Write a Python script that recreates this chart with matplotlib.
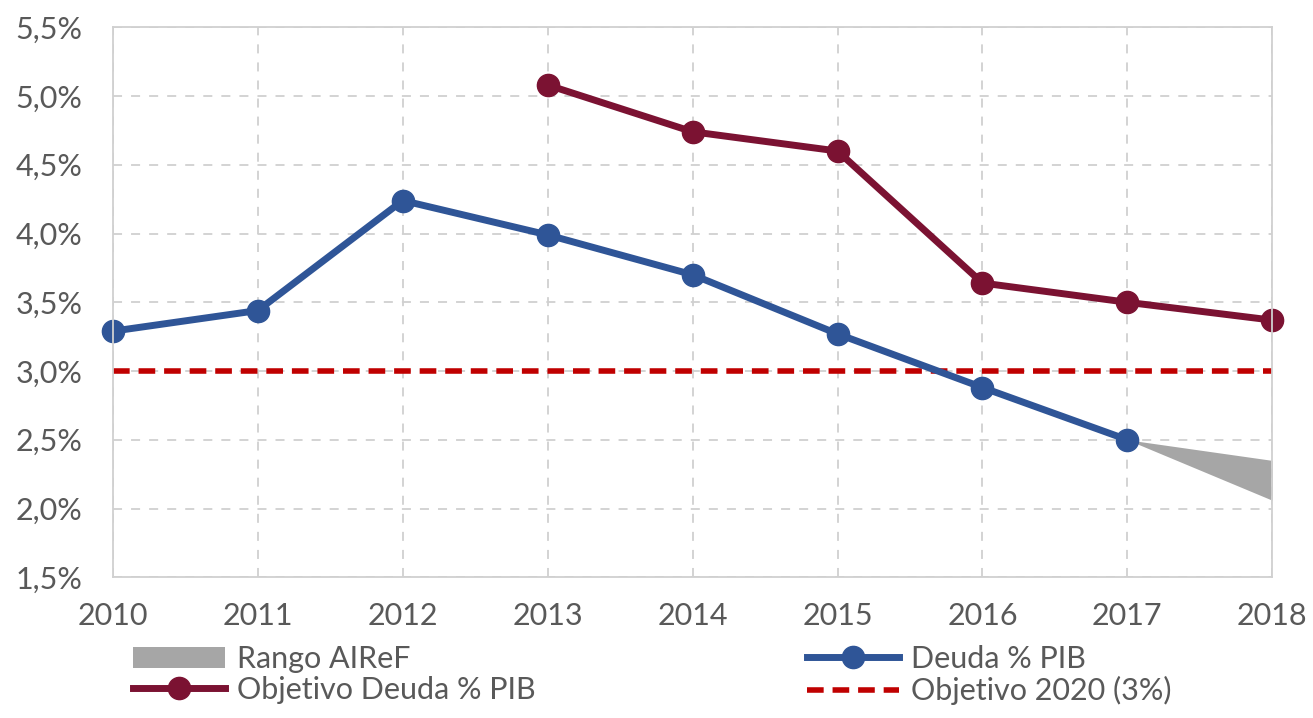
import matplotlib.pyplot as plt
import numpy as np

years = [2010, 2011, 2012, 2013, 2014, 2015, 2016, 2017, 2018]
deuda = [3.29, 3.44, 4.24, 3.99, 3.70, 3.27, 2.88, 2.50]
obj_years = [2013, 2014, 2015, 2016, 2017, 2018]
obj_deuda = [5.08, 4.74, 4.60, 3.64, 3.50, 3.37]
rango_years = [2017, 2018]
rango_low = [2.50, 2.06]
rango_high = [2.50, 2.35]
objetivo_2020 = 3.0

plt.rcParams['font.family'] = ['Lato', 'DejaVu Sans']
grey = '#595959'

fig = plt.figure(figsize=(13.13, 7.18), dpi=100)
ax = fig.add_axes([0.086, 0.196, 0.883, 0.766])

h_rango = ax.fill_between(rango_years, rango_low, rango_high, color='#a6a6a6', linewidth=0, label='Rango AIReF')
h_obj2020, = ax.plot([years[0], years[-1]], [objetivo_2020, objetivo_2020], color='#c00000', linewidth=4,
                     dashes=(3, 1.6), label='Objetivo 2020 (3%)')
h_deuda, = ax.plot(years[:len(deuda)], deuda, color='#2f5597', linewidth=5, marker='o', markersize=16,
                   label='Deuda % PIB')
h_obj, = ax.plot(obj_years, obj_deuda, color='#7b1232', linewidth=5, marker='o', markersize=16,
                 label='Objetivo Deuda % PIB')

ax.set_xlim(2010, 2018)
ax.set_ylim(1.5, 5.5)
ax.set_xticks(years)
ax.set_yticks(np.arange(1.5, 5.51, 0.5))
ax.set_yticklabels([('%.1f%%' % v).replace('.', ',') for v in np.arange(1.5, 5.51, 0.5)])
ax.tick_params(labelsize=22, colors=grey, length=0)
ax.tick_params(axis='y', pad=22)
ax.tick_params(axis='x', pad=18)
ax.grid(True, color='#d0d0d0', linestyle=(0, (5, 5)), linewidth=1.3)
for s in ax.spines.values():
    s.set_color('#d0d0d0')
    s.set_linewidth(1.3)
for c in [h_deuda, h_obj, h_obj2020]:
    c.set_clip_on(False)

fig.legend(handles=[h_rango, h_obj, h_deuda, h_obj2020], ncol=2, loc='lower left',
           bbox_to_anchor=(0.085, -0.012), frameon=False, fontsize=22, labelcolor=grey,
           handlelength=3.0, handletextpad=0.4, columnspacing=8.9, labelspacing=0.1,
           borderpad=0.2)

fig.savefig('out.png', dpi=100)
